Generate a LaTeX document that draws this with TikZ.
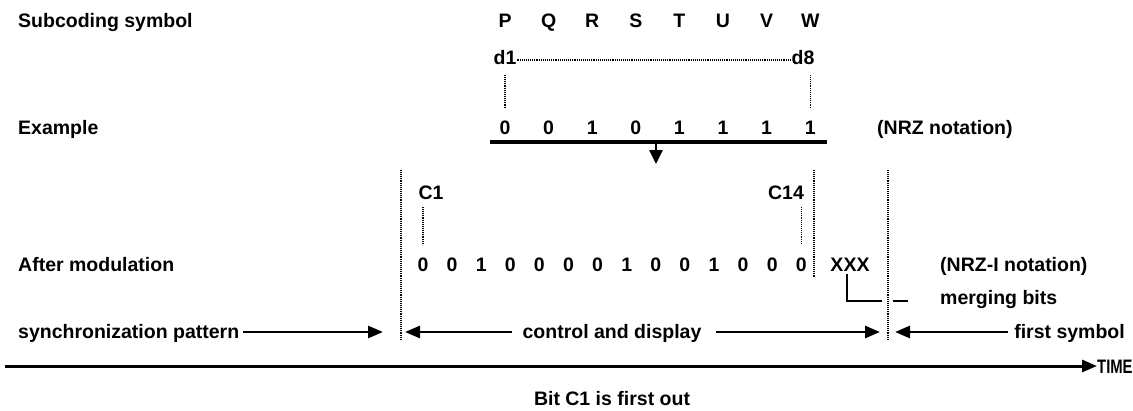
\documentclass[tikz,border=0pt]{standalone}
\usepackage{fontspec}
\usepackage{graphicx}
\setmainfont{Liberation Sans}
\usetikzlibrary{arrows.meta}
\begin{document}
\begin{tikzpicture}[x=1pt,y=-1pt,
  txt/.style={font=\fontsize{19.5}{20}\selectfont\bfseries, inner sep=0pt, anchor=base},
  lbl/.style={txt, anchor=base west},
  dots/.style={line width=1.3pt, dash pattern=on 1pt off 0.9pt},
  arr/.style={line width=2.8pt, -{Triangle[length=15pt,width=12pt]}},
  heavy/.style={line width=2.6pt}]
\useasboundingbox (0,0) rectangle (1133,410);
% left labels
\node[lbl] (sub) at (18,27) {Subcoding symbol};
\node[lbl] (ex) at (18,134) {Example};
\node[lbl] (am) at (18,271) {After modulation};
\node[lbl] (sync) at (18,338) {synchronization pattern};
% subcoding symbols
\foreach \t [count=\i from 0] in {P,Q,R,S,T,U,V,W}
  \node[txt] (L\i) at ({505+43.6*\i},27) {\t};
\node[txt] (d1) at (505,64) {d1};
\node[txt] (d8) at (803,64) {d8};
\draw[dots] (d1.east |- 0,60) -- (d8.west |- 0,60);
% example bits
\foreach \b [count=\i from 0] in {0,0,1,0,1,1,1,1}
  \node[txt] (E\i) at ({505+43.6*\i},134) {\b};
\draw[dots] (E0 |- 0,75) -- (E0 |- 0,108);
\draw[dots] (E7 |- 0,75) -- (E7 |- 0,108);
\node[lbl] (nrz) at (877,134) {(NRZ notation)};
% conversion bar and arrow
\coordinate (barL) at (490,142);
\coordinate (barR) at (827,142);
\coordinate (barM) at (656,142);
\coordinate (barT) at (656,164);
\draw[line width=3.4pt] (barL) -- (barR);
\draw[line width=2.6pt, -{Triangle[length=14pt,width=13pt]}] (barM) -- (barT);
% frame boundaries
\draw[dots] (401,170) -- (401,340);
\draw[dots] (814,170) -- (814,278);
\draw[dots] (888,170) -- (888,340);
% modulated bits
\foreach \b [count=\i from 0] in {0,0,1,0,0,0,0,1,0,0,1,0,0,0}
  \node[txt] (M\i) at ({423+29.1*\i},271) {\b};
\node[txt] (C1) at (431,199) {C1};
\node[txt] (C14) at (786,199) {C14};
\draw[dots] (M0 |- 0,207) -- (M0 |- 0,245);
\draw[dots] (M13 |- 0,207) -- (M13 |- 0,245);
\node[txt] (X) at (850,271) {XXX};
\node[lbl] (nrzi) at (940,271) {(NRZ-I notation)};
% merging bits leader
\node[lbl] (mb) at (940,304) {merging bits};
\draw[heavy] (X.south -| 847,0) ++(0,3) -- (847,301) -- (882,301);
\draw[heavy] (893,301) -- (908,301);
% arrows row
\node[txt] (cd) at (612,338) {control and display};
\node[txt, anchor=base east] (fs) at (1125,338) {first symbol};
\draw[arr] (sync.east |- 0,332) ++(4,0) -- (383,332);
\draw[arr] (cd.west |- 0,332) ++(-10,0) -- (405,332);
\draw[arr] (cd.east |- 0,332) ++(14,0) -- (880,332);
\draw[arr] (fs.west |- 0,332) ++(-6,0) -- (895,332);
% time axis
\node[lbl] (time) at (1097,373) {\scalebox{0.76}[1]{TIME}};
\draw[line width=3pt, -{Triangle[length=15pt,width=12pt]}] (5,366) -- (time.west |- 0,366);
\node[txt] (bit) at (612,405) {Bit C1 is first out};
\end{tikzpicture}
\end{document}
